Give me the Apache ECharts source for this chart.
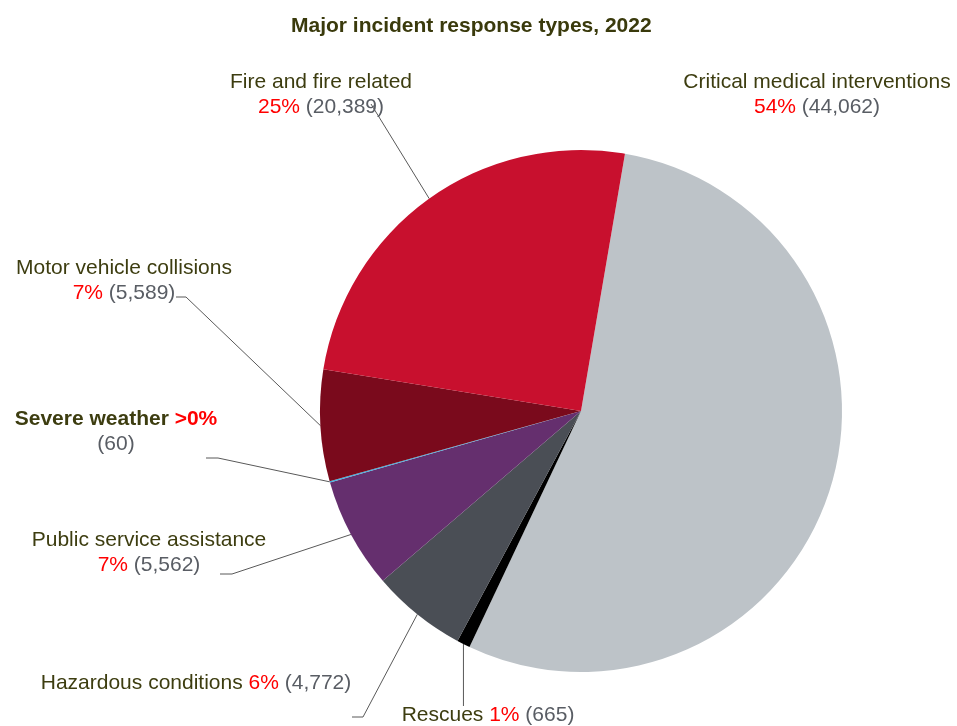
<!DOCTYPE html>
<html>
<head>
<meta charset="utf-8">
<script src="https://cdn.jsdelivr.net/npm/echarts@6/dist/echarts.min.js"></script>
<style>
  html, body { margin: 0; padding: 0; background: #fff; }
  #chart { width: 957px; height: 726px; }
</style>
</head>
<body>
<div id="chart"></div>
<script>
// data
const categories = [
  'Critical medical interventions',
  'Rescues',
  'Hazardous conditions',
  'Public service assistance',
  'Severe weather',
  'Motor vehicle collisions',
  'Fire and fire related'
]
const counts = [44062, 665, 4772, 5562, 60, 5589, 20389]
const colors = ['#bdc3c8', '#000000', '#4a4e55', '#652f6e', '#3fb0e0', '#7a0a1c', '#c8102e']

// where each label sits and how its guide line bends (layout only)
const labelSpots = [
  { x: 817, y: 95, twoLine: true, line: null },
  { x: 488, y: 715, twoLine: false, line: [[null, 706]] },
  { x: 196, y: 683, twoLine: false, line: [[363, 717], [352, 717]] },
  { x: 149, y: 553, twoLine: true, line: [[232, 574], [220, 574]] },
  { x: 116, y: 432, twoLine: true, bold: true, line: [[218, 458], [206, 458]] },
  { x: 124, y: 281, twoLine: true, line: [[186, 297], [176, 297]] },
  { x: 321, y: 95, twoLine: true, line: [[371, 104]] }
]

const total = counts.reduce((a, b) => a + b, 0)
const pctText = (v) => {
  const p = Math.round(v / total * 100)
  return p === 0 ? '>0%' : p + '%'
}

const chart = echarts.init(document.getElementById('chart'))

const option = {
  animation: false,
  title: {
    text: 'Major incident response types, 2022',
    left: 286,
    top: 11,
    textStyle: {
      fontFamily: 'Liberation Sans, Arial, sans-serif',
      fontSize: 21,
      fontWeight: 'bold',
      color: '#3a3a0c'
    }
  },
  series: [{
    type: 'pie',
    center: [581, 411],
    radius: 261,
    startAngle: 80.3,
    clockwise: true,
    avoidLabelOverlap: false,
    emphasis: { disabled: true },
    itemStyle: { borderWidth: 0 },
    label: {
      show: true,
      position: 'outside',
      fontFamily: 'Liberation Sans, Arial, sans-serif',
      fontSize: 21,
      lineHeight: 25,
      formatter: (p) => {
        const spot = labelSpots[p.dataIndex]
        const name = spot.bold ? '{b|' + p.name + '}' : '{n|' + p.name + '}'
        const pct = spot.bold ? '{pb|' + pctText(p.value) + '}' : '{p|' + pctText(p.value) + '}'
        const val = '{v|(' + p.value.toLocaleString('en-US') + ')}'
        if (spot.bold) return name + ' ' + pct + '\n' + val
        if (spot.twoLine) return name + '\n' + pct + ' ' + val
        return name + ' ' + pct + ' ' + val
      },
      rich: {
        n: { fontSize: 21, lineHeight: 25, color: '#3d3d10', fontFamily: 'Liberation Sans, Arial, sans-serif' },
        b: { fontSize: 21, lineHeight: 25, color: '#3d3d10', fontWeight: 'bold', fontFamily: 'Liberation Sans, Arial, sans-serif' },
        p: { fontSize: 21, lineHeight: 25, color: '#ff0000', fontFamily: 'Liberation Sans, Arial, sans-serif' },
        pb: { fontSize: 21, lineHeight: 25, color: '#ff0000', fontWeight: 'bold', fontFamily: 'Liberation Sans, Arial, sans-serif' },
        v: { fontSize: 21, lineHeight: 25, color: '#595d64', fontFamily: 'Liberation Sans, Arial, sans-serif' }
      }
    },
    labelLine: {
      show: true,
      length: 10,
      length2: 10,
      lineStyle: { color: '#595959', width: 1 }
    },
    labelLayout: (params) => {
      const spot = labelSpots[params.dataIndex]
      const out = { x: spot.x, y: spot.y, align: 'center', verticalAlign: 'middle', hideOverlap: false }
      const pts = params.labelLinePoints
      if (spot.line && pts && pts.length) {
        const start = [pts[0][0], pts[0][1]]
        const rest = spot.line.map((q) => [q[0] == null ? start[0] : q[0], q[1]])
        out.labelLinePoints = [start].concat(rest)
      }
      return out
    },
    data: categories.map((name, i) => ({
      name: name,
      value: counts[i],
      itemStyle: { color: colors[i] },
      labelLine: { show: labelSpots[i].line != null }
    }))
  }]
}

chart.setOption(option)
window.addEventListener('resize', () => {
  chart.resize()
})
</script>
</body>
</html>
